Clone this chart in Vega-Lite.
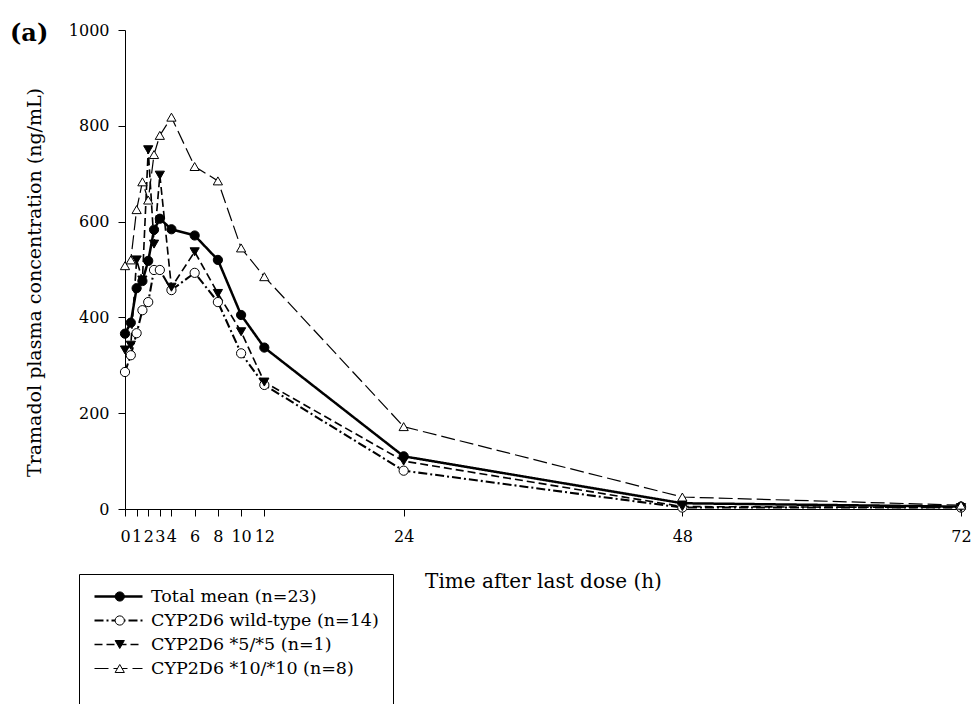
{
  "$schema": "https://vega.github.io/schema/vega-lite/v6.json",
  "autosize": "none",
  "width": 836,
  "height": 479,
  "padding": {"left": 125, "top": 30, "right": 12, "bottom": 195},
  "background": "white",
  "title": {"text": "(a)", "anchor": "start", "frame": "group", "font": "DejaVu Serif", "fontSize": 24, "fontWeight": "bold", "color": "black", "dx": -115, "dy": 24, "offset": 0},
  "config": {
    "view": {"stroke": null},
    "axis": {"grid": false, "domainColor": "black", "tickColor": "black", "labelColor": "black", "titleColor": "black", "labelFont": "DejaVu Serif", "titleFont": "DejaVu Serif", "labelFontSize": 16, "titleFontSize": 20, "titleFontWeight": "normal", "tickSize": 7, "domainWidth": 1, "tickWidth": 1},
    "legend": {
      "orient": "none", "legendX": -46, "legendY": 544,
      "strokeColor": "black", "padding": 14, "symbolType": "stroke", "symbolSize": 2304, "symbolOpacity": 1, "clipHeight": 17,
      "labelFont": "DejaVu Serif", "labelFontSize": 17.5, "labelColor": "black", "labelOffset": 7, "labelLimit": 400, "rowPadding": 6,
      "symbolStrokeColor": "black", "titleFontSize": 40, "titleOrient": "bottom"
    }
  },
  "resolve": {"legend": {"shape": "independent", "fill": "independent", "size": "independent", "stroke": "independent"}},
  "data": {"values": [
    {"t": 0, "series": "Total mean (n=23)", "v": 366},
    {"t": 0.5, "series": "Total mean (n=23)", "v": 389},
    {"t": 1, "series": "Total mean (n=23)", "v": 461},
    {"t": 1.5, "series": "Total mean (n=23)", "v": 476},
    {"t": 2, "series": "Total mean (n=23)", "v": 518},
    {"t": 2.5, "series": "Total mean (n=23)", "v": 583},
    {"t": 3, "series": "Total mean (n=23)", "v": 606},
    {"t": 4, "series": "Total mean (n=23)", "v": 584},
    {"t": 6, "series": "Total mean (n=23)", "v": 571},
    {"t": 8, "series": "Total mean (n=23)", "v": 520},
    {"t": 10, "series": "Total mean (n=23)", "v": 405},
    {"t": 12, "series": "Total mean (n=23)", "v": 337},
    {"t": 24, "series": "Total mean (n=23)", "v": 110},
    {"t": 48, "series": "Total mean (n=23)", "v": 12},
    {"t": 72, "series": "Total mean (n=23)", "v": 5},
    {"t": 0, "series": "CYP2D6 wild-type (n=14)", "v": 286},
    {"t": 0.5, "series": "CYP2D6 wild-type (n=14)", "v": 321},
    {"t": 1, "series": "CYP2D6 wild-type (n=14)", "v": 367},
    {"t": 1.5, "series": "CYP2D6 wild-type (n=14)", "v": 415},
    {"t": 2, "series": "CYP2D6 wild-type (n=14)", "v": 432},
    {"t": 2.5, "series": "CYP2D6 wild-type (n=14)", "v": 499},
    {"t": 3, "series": "CYP2D6 wild-type (n=14)", "v": 499},
    {"t": 4, "series": "CYP2D6 wild-type (n=14)", "v": 457},
    {"t": 6, "series": "CYP2D6 wild-type (n=14)", "v": 493},
    {"t": 8, "series": "CYP2D6 wild-type (n=14)", "v": 432},
    {"t": 10, "series": "CYP2D6 wild-type (n=14)", "v": 325},
    {"t": 12, "series": "CYP2D6 wild-type (n=14)", "v": 259},
    {"t": 24, "series": "CYP2D6 wild-type (n=14)", "v": 80},
    {"t": 48, "series": "CYP2D6 wild-type (n=14)", "v": 3},
    {"t": 72, "series": "CYP2D6 wild-type (n=14)", "v": 3},
    {"t": 0, "series": "CYP2D6 *5/*5 (n=1)", "v": 332},
    {"t": 0.5, "series": "CYP2D6 *5/*5 (n=1)", "v": 342},
    {"t": 1, "series": "CYP2D6 *5/*5 (n=1)", "v": 520},
    {"t": 1.5, "series": "CYP2D6 *5/*5 (n=1)", "v": 478},
    {"t": 2, "series": "CYP2D6 *5/*5 (n=1)", "v": 750},
    {"t": 2.5, "series": "CYP2D6 *5/*5 (n=1)", "v": 553},
    {"t": 3, "series": "CYP2D6 *5/*5 (n=1)", "v": 697},
    {"t": 4, "series": "CYP2D6 *5/*5 (n=1)", "v": 463},
    {"t": 6, "series": "CYP2D6 *5/*5 (n=1)", "v": 537},
    {"t": 8, "series": "CYP2D6 *5/*5 (n=1)", "v": 450},
    {"t": 10, "series": "CYP2D6 *5/*5 (n=1)", "v": 370},
    {"t": 12, "series": "CYP2D6 *5/*5 (n=1)", "v": 265},
    {"t": 24, "series": "CYP2D6 *5/*5 (n=1)", "v": 100},
    {"t": 48, "series": "CYP2D6 *5/*5 (n=1)", "v": 5},
    {"t": 72, "series": "CYP2D6 *5/*5 (n=1)", "v": 3},
    {"t": 0, "series": "CYP2D6 *10/*10 (n=8)", "v": 508},
    {"t": 0.5, "series": "CYP2D6 *10/*10 (n=8)", "v": 520},
    {"t": 1, "series": "CYP2D6 *10/*10 (n=8)", "v": 625},
    {"t": 1.5, "series": "CYP2D6 *10/*10 (n=8)", "v": 683},
    {"t": 2, "series": "CYP2D6 *10/*10 (n=8)", "v": 645},
    {"t": 2.5, "series": "CYP2D6 *10/*10 (n=8)", "v": 740},
    {"t": 3, "series": "CYP2D6 *10/*10 (n=8)", "v": 780},
    {"t": 4, "series": "CYP2D6 *10/*10 (n=8)", "v": 818},
    {"t": 6, "series": "CYP2D6 *10/*10 (n=8)", "v": 715},
    {"t": 8, "series": "CYP2D6 *10/*10 (n=8)", "v": 685},
    {"t": 10, "series": "CYP2D6 *10/*10 (n=8)", "v": 545},
    {"t": 12, "series": "CYP2D6 *10/*10 (n=8)", "v": 485},
    {"t": 24, "series": "CYP2D6 *10/*10 (n=8)", "v": 172},
    {"t": 48, "series": "CYP2D6 *10/*10 (n=8)", "v": 25},
    {"t": 72, "series": "CYP2D6 *10/*10 (n=8)", "v": 8}
  ]},
  "encoding": {
    "x": {"field": "t", "type": "quantitative", "scale": {"domain": [0, 72], "nice": false},
      "axis": {"values": [0, 1, 2, 3, 4, 6, 8, 10, 12, 24, 48, 72], "labelOverlap": false, "labelPadding": 12, "title": "Time after last dose (h)", "titlePadding": 27, "labelFlush": false}},
    "y": {"field": "v", "type": "quantitative", "scale": {"domain": [0, 1000], "nice": false},
      "axis": {"values": [0, 200, 400, 600, 800, 1000], "format": "d", "labelPadding": 9, "title": "Tramadol plasma concentration (ng/mL)", "titleFontSize": 19, "titleX": -81, "titleY": 252, "labelFlush": false}}
  },
  "layer": [
    {
      "mark": {"type": "line", "color": "black"},
      "encoding": {
        "strokeDash": {"field": "series", "type": "nominal",
          "scale": {"domain": ["Total mean (n=23)", "CYP2D6 wild-type (n=14)", "CYP2D6 *5/*5 (n=1)", "CYP2D6 *10/*10 (n=8)"], "range": [[1, 0], [9, 3, 2, 3], [8, 4], [14, 5]]},
          "legend": {"title": "\u00a0"}},
        "strokeWidth": {"field": "series", "type": "nominal",
          "scale": {"domain": ["Total mean (n=23)", "CYP2D6 wild-type (n=14)", "CYP2D6 *5/*5 (n=1)", "CYP2D6 *10/*10 (n=8)"], "range": [2.5, 1.2, 1.2, 1.2]},
          "legend": {"title": "\u00a0"}}
      }
    },
    {
      "mark": {"type": "point", "strokeWidth": 1, "opacity": 1},
      "encoding": {
        "shape": {"field": "series", "type": "nominal",
          "scale": {"domain": ["Total mean (n=23)", "CYP2D6 wild-type (n=14)", "CYP2D6 *5/*5 (n=1)", "CYP2D6 *10/*10 (n=8)"], "range": ["circle", "circle", "triangle-down", "triangle-up"]},
          "legend": {"title": "\u00a0", "legendX": -28, "strokeColor": "transparent", "labelExpr": "''", "symbolStrokeWidth": 1}},
        "fill": {"field": "series", "type": "nominal",
          "scale": {"domain": ["Total mean (n=23)", "CYP2D6 wild-type (n=14)", "CYP2D6 *5/*5 (n=1)", "CYP2D6 *10/*10 (n=8)"], "range": ["black", "white", "black", "white"]},
          "legend": {"title": "\u00a0", "legendX": -28, "strokeColor": "transparent", "labelExpr": "''", "symbolStrokeWidth": 1}},
        "stroke": {"field": "series", "type": "nominal",
          "scale": {"domain": ["Total mean (n=23)", "CYP2D6 wild-type (n=14)", "CYP2D6 *5/*5 (n=1)", "CYP2D6 *10/*10 (n=8)"], "range": ["black", "black", "black", "black"]},
          "legend": {"title": "\u00a0", "legendX": -28, "strokeColor": "transparent", "labelExpr": "''", "symbolStrokeWidth": 1}},
        "size": {"field": "series", "type": "nominal",
          "scale": {"domain": ["Total mean (n=23)", "CYP2D6 wild-type (n=14)", "CYP2D6 *5/*5 (n=1)", "CYP2D6 *10/*10 (n=8)"], "range": [85, 85, 150, 150]},
          "legend": {"title": "\u00a0", "legendX": -28, "strokeColor": "transparent", "labelExpr": "''", "symbolStrokeWidth": 1}}
      }
    }
  ]
}
